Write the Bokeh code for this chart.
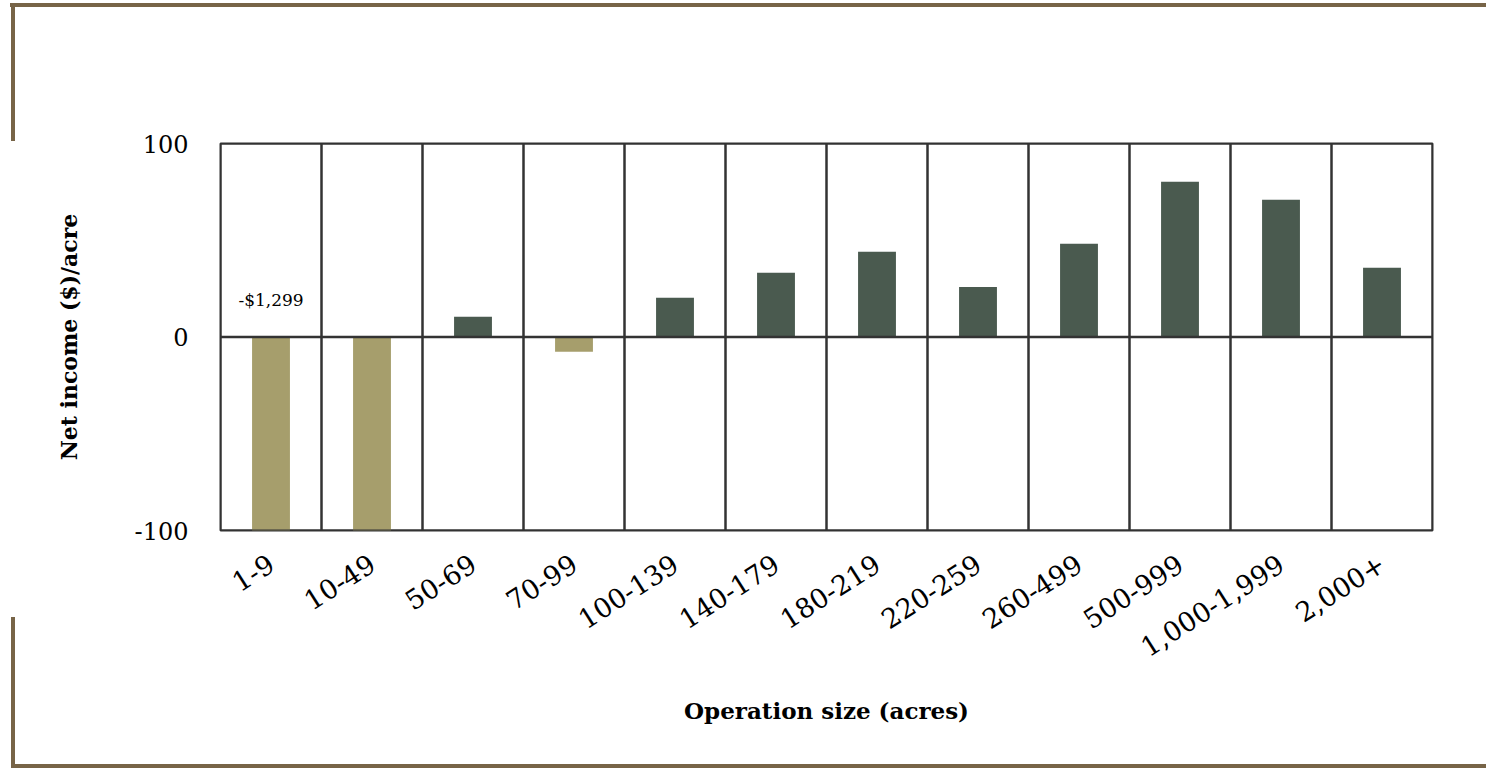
from bokeh.plotting import figure
from bokeh.models import Range1d, FactorRange, FixedTicker, Span, ColumnDataSource
from bokeh.core.properties import value
from bokeh.embed import file_html
from bokeh.resources import INLINE

# ---- data ----
categories = ["1-9", "10-49", "50-69", "70-99", "100-139", "140-179", "180-219",
              "220-259", "260-499", "500-999", "1,000-1,999", "2,000+"]
net_income = [-1299, -104, 10.5, -7.6, 20.3, 33.2, 44.0, 25.9, 48.2, 80.2, 70.9, 35.8]
y_ticks = [-100, 0, 100]
x_title = "Operation size (acres)"
y_title = "Net income ($)/acre"

# ---- style ----
POS = "#4a5a4f"
NEG = "#a69e6c"
GRID = "#333333"
FRAME = "#776447"
FONT = "DejaVu Serif"

W, H = 1486, 768
y_min, y_max = min(y_ticks), max(y_ticks)

# decorative page frame drawn as CSS backgrounds behind a transparent canvas
g = f"linear-gradient({FRAME},{FRAME})"
frame_styles = {
    "background-color": "white",
    "background-image": ", ".join([g] * 4),
    "background-repeat": "no-repeat",
    "background-position": f"10px 3px, 11px 3px, 11px 617px, 11px {H - 4}px",
    "background-size": f"{W - 10}px 4px, 4px 138px, 4px {H - 617}px, {W - 11}px 4px",
}

p = figure(x_range=FactorRange(*categories), y_range=Range1d(y_min, y_max),
           width=W, height=H, output_backend="svg", toolbar_location=None,
           min_border_left=220, min_border_right=W - 1432, min_border_top=143,
           min_border_bottom=H - 530, styles=frame_styles)
p.background_fill_color = "white"
p.border_fill_alpha = 0
p.outline_line_color = GRID
p.outline_line_width = 2
p.xgrid.visible = False
p.ygrid.visible = False

colors = [POS if v >= 0 else NEG for v in net_income]
src = ColumnDataSource(dict(cat=categories, val=net_income, color=colors))
p.vbar(x="cat", top="val", bottom=0, width=0.375, fill_color="color", line_color=None, source=src)

# cell borders (one cell per category)
p.vbar(x=categories, top=y_max, bottom=y_min, width=1.0, fill_alpha=0,
       line_color=GRID, line_width=2)
p.add_layout(Span(location=0, dimension="width", line_color=GRID, line_width=2.5))

# label for the out-of-range bar
i_min = net_income.index(min(net_income))
v_min = net_income[i_min]
p.text(x=[categories[i_min]], y=[0], text=[f"-${abs(v_min):,.0f}"],
       text_align="center", text_baseline="bottom", y_offset=-27,
       text_font=value(FONT), text_font_size="17px", text_color="black")

# axes
p.yaxis.ticker = FixedTicker(ticks=y_ticks)
p.yaxis.major_label_overrides = {t: str(t) for t in y_ticks}
p.yaxis.axis_line_color = None
p.yaxis.major_tick_line_color = None
p.yaxis.minor_tick_line_color = None
p.yaxis.major_tick_out = 0
p.yaxis.major_label_standoff = 32
p.yaxis.major_label_text_font = FONT
p.yaxis.major_label_text_font_size = "24px"
p.yaxis.major_label_text_color = "black"
p.yaxis.axis_label = y_title
p.yaxis.axis_label_text_font = FONT
p.yaxis.axis_label_text_font_style = "bold"
p.yaxis.axis_label_text_font_size = "22px"
p.yaxis.axis_label_text_color = "black"
p.yaxis.axis_label_standoff = 50

p.xaxis.axis_line_color = None
p.xaxis.major_tick_line_color = None
p.xaxis.major_tick_out = 0
p.xaxis.major_label_orientation = 0.57
p.xaxis.major_label_standoff = 30
p.xaxis.major_label_text_font = FONT
p.xaxis.major_label_text_font_size = "27px"
p.xaxis.major_label_text_color = "black"
p.xaxis.axis_label = x_title
p.xaxis.axis_label_text_font = FONT
p.xaxis.axis_label_text_font_style = "bold"
p.xaxis.axis_label_text_font_size = "23px"
p.xaxis.axis_label_text_color = "black"
p.xaxis.axis_label_standoff = 27

open("out.html", "w").write(file_html(p, INLINE))
